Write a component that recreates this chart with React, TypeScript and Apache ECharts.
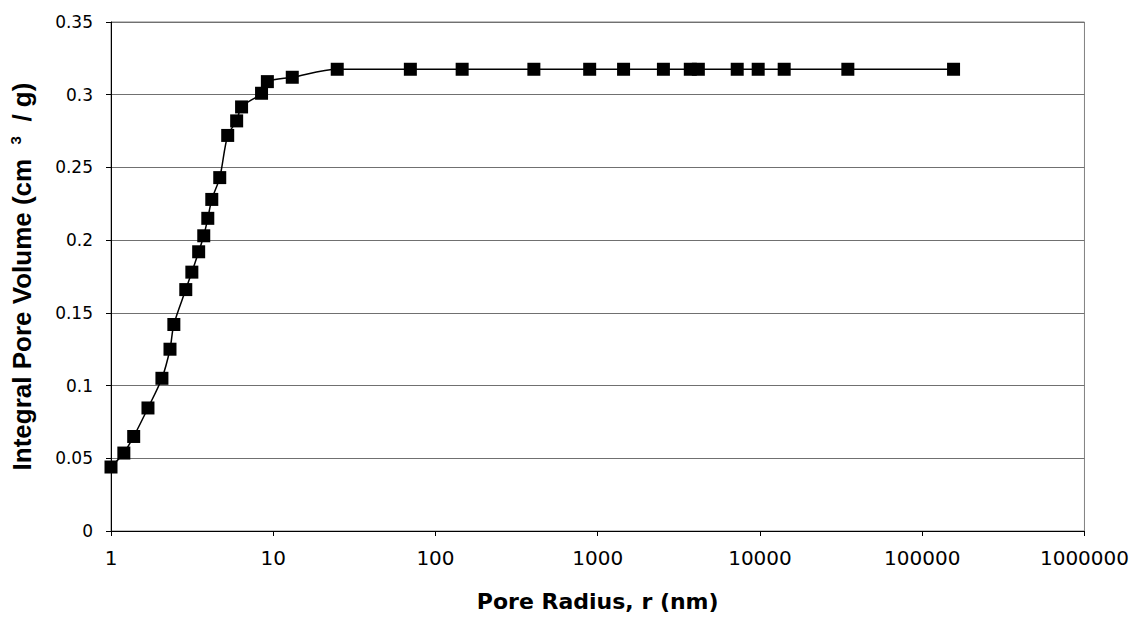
import React, { useEffect, useRef } from "react";
import * as echarts from "echarts";

const radius: number[] = [
  1, 1.2, 1.38, 1.69, 2.06, 2.31, 2.44, 2.89, 3.15, 3.47, 3.73, 3.95, 4.18, 4.68,
  5.24, 5.95, 6.38, 8.47, 9.2, 13.1, 24.8, 70, 146, 404, 892, 1443, 2540, 3720,
  4170, 7240, 9750, 14100, 34800, 156000,
];
const volume: number[] = [
  0.044, 0.0536, 0.065, 0.0846, 0.105, 0.125, 0.142, 0.166, 0.178, 0.192, 0.203,
  0.215, 0.228, 0.243, 0.272, 0.282, 0.2916, 0.301, 0.309, 0.312, 0.3175, 0.3175,
  0.3175, 0.3175, 0.3175, 0.3175, 0.3175, 0.3175, 0.3175, 0.3175, 0.3175, 0.3175,
  0.3175, 0.3175,
];
const xTitle = "Pore Radius, r (nm)";
const yTitle = "Integral Pore Volume (cm  {sup|3}  / g)";

export default function App() {
  const ref = useRef<HTMLDivElement>(null);
  useEffect(() => {
    document.body.style.margin = "0";
    const chart = echarts.init(ref.current!, null, { renderer: "svg" });
    const arial = "Arial, 'Liberation Sans', sans-serif";
    const wide = "'DejaVu Sans', sans-serif";
    chart.setOption({
      animation: false,
      backgroundColor: "#ffffff",
      grid: {
        left: 111,
        right: 45,
        top: 22,
        bottom: 90,
        show: true,
        borderColor: "#808080",
        borderWidth: 1,
        containLabel: false,
      },
      xAxis: {
        type: "log",
        logBase: 10,
        min: 1,
        max: 1000000,
        name: xTitle,
        nameLocation: "middle",
        nameGap: 59,
        nameTextStyle: { fontFamily: wide, fontSize: 22, fontWeight: "bold", color: "#000" },
        axisLine: { lineStyle: { color: "#000", width: 1 } },
        axisTick: { show: true, length: 5, inside: false, lineStyle: { color: "#000" } },
        minorTick: { show: false },
        axisLabel: {
          fontFamily: wide,
          fontSize: 20,
          color: "#000",
          margin: 17,
          formatter: (v: number) => String(Math.round(v)),
        },
        splitLine: { show: false },
      },
      yAxis: {
        type: "value",
        min: 0,
        max: 0.35,
        interval: 0.05,
        name: yTitle,
        nameLocation: "middle",
        nameGap: 76,
        nameRotate: 90,
        nameTextStyle: {
          fontFamily: arial,
          fontSize: 26,
          fontWeight: "bold",
          color: "#000",
          rich: {
            sup: {
              fontFamily: arial,
              fontSize: 15,
              fontWeight: "bold",
              color: "#000",
              verticalAlign: "top",
              padding: [0, 0, 12, 0],
            },
          },
        },
        axisLine: { show: true, lineStyle: { color: "#000", width: 1 } },
        axisTick: { show: true, length: 5, inside: false, lineStyle: { color: "#000" } },
        axisLabel: {
          fontFamily: wide,
          fontSize: 17,
          color: "#000",
          margin: 18,
          formatter: (v: number) => String(parseFloat(v.toFixed(2))),
        },
        splitLine: { show: true, lineStyle: { color: "#707070", width: 1 } },
      },
      series: [
        {
          type: "line",
          data: radius.map((r, i) => [r, volume[i]]),
          smooth: 0.3,
          symbol: "rect",
          symbolSize: 13,
          itemStyle: { color: "#000" },
          lineStyle: { color: "#000", width: 1.5 },
        },
      ],
    });
    return () => chart.dispose();
  }, []);
  return (
    <div
      ref={ref}
      style={{ position: "absolute", left: 0, top: 0, width: 1132, height: 621 }}
    />
  );
}
